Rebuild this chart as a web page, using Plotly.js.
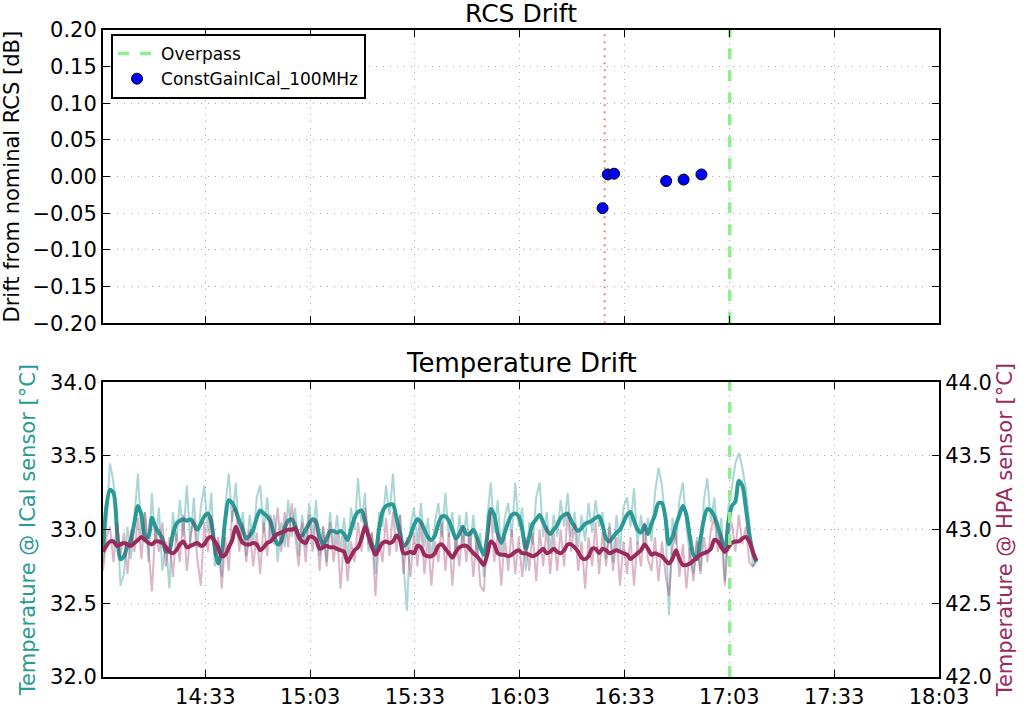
<!DOCTYPE html>
<html><head><meta charset="utf-8">
<script src="https://cdn.plot.ly/plotly-3.0.1.min.js"></script>
<style>html,body{margin:0;padding:0;background:#fff}#chart{width:1024px;height:708px}</style>
</head><body><div id="chart"></div>
<script>
// ---------- data ----------
const DAY = '2015-01-01';
const xStart = '14:03:42';
const xEnd = '18:03:00';
const sampleStartSec = 14 * 3600 + 3 * 60 + 42;
const sampleStepSec = 60;
const tickLabels = ['14:33', '15:03', '15:33', '16:03', '16:33', '17:03', '17:33', '18:03'];
const overpassTime = '17:03:06';
const calibTime = '16:27:18';
const rcsRange = [-0.2, 0.2];
const icalRange = [32, 34];
const hpaRange = [42, 44];

const rcsTimes = ['16:26:42', '16:28:12', '16:30:00', '16:44:54', '16:49:54', '16:55:00'];
const rcsDrift = [-0.043, 0.003, 0.004, -0.006, -0.004, 0.003];

const icalRaw = [
  32.78, 33.05, 33.45, 33.32, 33.10, 32.62, 32.70, 33.02, 32.80, 33.12,
  33.38, 32.95, 33.12, 32.78, 33.25, 32.90, 33.15, 32.72, 32.92, 32.60,
  33.12, 32.92, 33.20, 32.95, 33.30, 32.90, 33.22, 32.88, 33.15, 33.30,
  32.98, 33.25, 32.75, 32.92, 32.68, 33.15, 33.38, 33.05, 33.32, 32.95,
  33.12, 32.82, 33.10, 32.90, 33.22, 33.30, 32.98, 33.22, 32.92, 33.10,
  32.78, 33.05, 32.88, 33.20, 32.95, 33.15, 32.82, 33.10, 32.88, 33.18,
  32.95, 33.20, 32.82, 33.02, 32.78, 33.12, 32.88, 33.10, 32.85, 33.08,
  32.80, 33.15, 33.00, 33.35, 33.05, 33.25, 32.85, 32.98, 32.70, 33.12,
  33.02, 33.30, 33.10, 33.38, 33.00, 33.10, 32.75, 32.45, 33.02, 33.15,
  32.90, 33.18, 32.88, 33.08, 32.80, 33.05, 33.18, 32.95, 33.25, 32.95,
  33.12, 32.82, 33.10, 32.88, 33.12, 32.85, 33.10, 32.82, 32.98, 32.68,
  33.08, 33.32, 32.98, 33.20, 32.82, 33.08, 33.18, 32.95, 33.32, 33.02,
  33.15, 32.72, 33.05, 32.90, 33.22, 33.32, 32.95, 33.12, 32.85, 33.10,
  32.95, 33.20, 33.02, 33.25, 32.95, 33.12, 32.88, 33.10, 32.92, 33.18,
  32.98, 33.20, 33.02, 33.12, 32.80, 33.05, 32.78, 33.10, 32.85, 33.15,
  33.22, 33.02, 33.28, 32.90, 33.10, 32.88, 33.08, 32.92, 33.25, 33.42,
  33.30, 33.05, 32.42, 33.08, 32.90, 33.20, 33.32, 33.02, 32.82, 32.70,
  32.95, 32.72, 33.20, 33.35, 33.05, 33.22, 32.92, 33.08, 32.65, 33.15,
  33.28, 33.45, 33.52, 33.42, 33.28, 33.05, 32.75, 32.80
];
const icalSmooth = [
  32.88, 33.16, 33.27, 33.25, 33.00, 32.80, 32.82, 32.89, 32.93, 33.05,
  33.16, 33.10, 32.96, 32.95, 33.08, 33.02, 32.98, 32.94, 32.85, 32.86,
  32.97, 33.04, 33.06, 33.07, 33.06, 33.07, 33.04, 33.00, 33.04, 33.09,
  33.11, 33.05, 32.88, 32.77, 32.85, 33.07, 33.20, 33.18, 33.13, 33.06,
  33.00, 32.94, 32.96, 33.00, 33.08, 33.13, 33.11, 33.09, 33.05, 32.96,
  32.90, 32.92, 33.01, 33.06, 33.07, 33.03, 32.96, 32.96, 33.00, 33.04,
  33.07, 33.05, 32.95, 32.90, 32.94, 32.99, 32.99, 32.98, 32.99, 32.97,
  32.93, 33.00, 33.08, 33.12, 33.13, 33.06, 32.96, 32.90, 32.86, 33.00,
  33.12, 33.16, 33.17, 33.17, 33.08, 32.98, 32.89, 32.91, 32.96, 33.03,
  33.07, 33.05, 33.00, 32.95, 32.93, 32.96, 33.04, 33.09, 33.09, 33.06,
  33.00, 32.94, 32.97, 33.02, 32.97, 32.97, 33.00, 32.95, 32.88, 32.83,
  32.96, 33.14, 33.10, 32.97, 32.91, 32.98, 33.05, 33.10, 33.11, 33.09,
  33.00, 32.87, 32.95, 33.04, 33.07, 33.10, 33.05, 33.00, 32.97, 33.00,
  33.03, 33.08, 33.10, 33.11, 33.06, 33.02, 32.99, 33.01, 33.04, 33.05,
  33.06, 33.08, 33.09, 33.03, 32.94, 32.92, 32.95, 32.98, 33.00, 33.05,
  33.10, 33.12, 33.06, 33.00, 32.98, 33.03, 32.97, 33.04, 33.10, 33.18,
  33.18, 33.08, 32.90, 32.95, 33.03, 33.10, 33.16, 33.10, 32.95, 32.83,
  32.80, 32.93, 33.07, 33.14, 33.13, 33.09, 33.02, 32.94, 32.85, 33.05,
  33.16, 33.19, 33.33, 33.30, 33.15, 32.97, 32.85, 32.78
];
const hpaRaw = [
  42.72, 42.95, 43.02, 42.78, 43.05, 42.82, 42.98, 42.70, 43.00, 42.85,
  43.08, 42.80, 43.12, 42.88, 42.58, 43.02, 42.85, 43.05, 42.75, 42.95,
  42.68, 42.98, 42.78, 43.10, 42.72, 42.95, 43.08, 42.80, 42.62, 43.05,
  42.85, 43.10, 42.82, 42.95, 42.60, 42.95, 42.72, 43.12, 43.15, 42.85,
  43.05, 42.78, 43.00, 42.75, 42.98, 42.70, 43.05, 42.82, 43.10, 42.90,
  43.15, 42.85, 43.12, 42.88, 43.18, 42.95, 42.75, 43.05, 42.78, 43.10,
  42.85, 43.08, 42.72, 43.02, 42.75, 43.05, 42.78, 42.98, 42.60, 42.95,
  42.65, 42.92, 42.78, 43.05, 42.85, 43.15, 42.90, 42.98, 42.55, 42.95,
  42.78, 43.08, 42.82, 43.12, 42.85, 43.10, 42.70, 42.95, 42.68, 42.98,
  42.75, 43.05, 42.70, 42.95, 42.62, 42.92, 42.78, 43.05, 42.72, 42.98,
  42.62, 42.95, 42.75, 43.02, 42.78, 43.00, 42.68, 42.95, 42.62, 42.58,
  42.92, 43.12, 42.78, 42.98, 42.62, 42.95, 42.72, 43.00, 42.70, 42.95,
  42.68, 42.95, 42.72, 42.98, 42.65, 43.00, 42.75, 43.02, 42.70, 42.98,
  42.72, 43.00, 42.75, 43.12, 42.85, 43.05, 42.72, 42.92, 42.60, 42.95,
  42.75, 43.05, 42.70, 42.98, 42.75, 43.02, 42.72, 42.95, 42.62, 42.92,
  42.70, 42.95, 42.62, 42.92, 42.75, 43.05, 42.80, 42.72, 42.95, 42.65,
  42.92, 42.70, 42.55, 42.88, 42.98, 42.68, 42.90, 42.60, 42.88, 42.65,
  42.92, 42.70, 42.95, 42.78, 43.00, 43.08, 42.85, 42.98, 42.62, 42.95,
  43.05, 42.85, 43.10, 42.90, 43.02, 42.78, 42.75, 42.78
];
const hpaSmooth = [
  42.85, 42.89, 42.92, 42.92, 42.89, 42.90, 42.91, 42.90, 42.89, 42.91,
  42.93, 42.95, 42.93, 42.91, 42.90, 42.92, 42.92, 42.91, 42.88, 42.85,
  42.84, 42.86, 42.90, 42.92, 42.88, 42.89, 42.90, 42.91, 42.89, 42.90,
  42.94, 42.95, 42.92, 42.88, 42.82, 42.83, 42.88, 42.93, 43.02, 42.96,
  42.91, 42.90, 42.90, 42.91, 42.90, 42.86, 42.88, 42.91, 42.92, 42.95,
  42.97, 42.98, 42.99, 43.00, 43.00, 43.01, 42.95, 42.92, 42.91, 42.95,
  42.95, 42.93, 42.87, 42.88, 42.89, 42.88, 42.88, 42.87, 42.86, 42.85,
  42.78, 42.82, 42.86, 42.88, 42.94, 43.02, 42.96, 42.88, 42.83, 42.87,
  42.91, 42.92, 42.91, 42.92, 42.96, 42.93, 42.84, 42.84, 42.85, 42.84,
  42.89, 42.88, 42.83, 42.82, 42.82, 42.84, 42.89, 42.90, 42.87, 42.84,
  42.81, 42.85, 42.88, 42.89, 42.89, 42.87, 42.84, 42.82, 42.79, 42.76,
  42.83, 42.92, 42.90, 42.84, 42.83, 42.83, 42.82, 42.83, 42.85, 42.86,
  42.84, 42.84, 42.83, 42.82, 42.83, 42.85, 42.87, 42.84, 42.85, 42.87,
  42.85, 42.84, 42.86, 42.90, 42.90, 42.88, 42.85, 42.81, 42.80, 42.82,
  42.87, 42.87, 42.84, 42.87, 42.86, 42.84, 42.85, 42.86, 42.85, 42.84,
  42.83, 42.80, 42.82, 42.84, 42.86, 42.90, 42.87, 42.83, 42.84, 42.83,
  42.82, 42.79, 42.77, 42.80, 42.86, 42.80, 42.76, 42.76, 42.77, 42.79,
  42.81, 42.83, 42.84, 42.85, 42.87, 42.93, 42.92, 42.88, 42.85, 42.88,
  42.91, 42.92, 42.92, 42.94, 42.95, 42.92, 42.85, 42.79
];

// ---------- helpers ----------
function pad(n) { return String(n).padStart(2, '0'); }
function at(hms) { return DAY + ' ' + (hms.length === 5 ? hms + ':00' : hms); }
function sampleTimes(n) {
  const out = [];
  for (let i = 0; i < n; i++) {
    const s = sampleStartSec + i * sampleStepSec;
    out.push(DAY + ' ' + pad(Math.floor(s / 3600)) + ':' + pad(Math.floor(s / 60) % 60) + ':' + pad(s % 60));
  }
  return out;
}
const tSamples = sampleTimes(icalRaw.length);

const FONT = 'DejaVu Sans, Liberation Sans, sans-serif';
const TEAL = '#2a9a96';
const TEAL_LIGHT = 'rgba(42,154,150,0.40)';
const MAROON = '#9a2a5c';
const MAROON_LIGHT = 'rgba(154,42,92,0.35)';
const GREEN = '#90ee90';
const GRID = '#a8a8a8';
const GRID_DASH = '1px,6px';

const traces = [
  { x: [at(overpassTime), at(overpassTime)], y: rcsRange, mode: 'lines', name: 'Overpass',
    line: { color: GREEN, width: 3.5, dash: '11px,11px' }, xaxis: 'x', yaxis: 'y' },
  { x: rcsTimes.map(at), y: rcsDrift, mode: 'markers', name: 'ConstGainICal_100MHz',
    marker: { color: '#0000ff', size: 11, line: { color: '#000000', width: 1 } }, xaxis: 'x', yaxis: 'y' },
  { x: tSamples, y: icalRaw, mode: 'lines', line: { color: TEAL_LIGHT, width: 2 }, showlegend: false, xaxis: 'x2', yaxis: 'y2' },
  { x: tSamples, y: icalSmooth, mode: 'lines', line: { color: TEAL, width: 4, shape: 'spline', smoothing: 0.8 }, showlegend: false, xaxis: 'x2', yaxis: 'y2' },
  { x: tSamples, y: hpaRaw, mode: 'lines', line: { color: MAROON_LIGHT, width: 2 }, showlegend: false, xaxis: 'x2', yaxis: 'y3' },
  { x: tSamples, y: hpaSmooth, mode: 'lines', line: { color: MAROON, width: 4, shape: 'spline', smoothing: 0.8 }, showlegend: false, xaxis: 'x2', yaxis: 'y3' }
];

const tickFont = { family: FONT, size: 21, color: '#000' };
const commonX = {
  type: 'date', range: [at(xStart), at(xEnd)],
  tickvals: tickLabels.map(at), ticktext: tickLabels,
  ticks: 'inside', ticklen: 7, tickwidth: 1, tickcolor: '#000',
  showline: true, linewidth: 2, linecolor: '#000', mirror: 'ticks',
  showgrid: true, gridcolor: GRID, griddash: GRID_DASH, gridwidth: 1,
  zeroline: false, tickfont: tickFont
};

const layout = {
  width: 1024, height: 708,
  margin: { l: 103, r: 85, t: 30, b: 31 },
  paper_bgcolor: '#fff', plot_bgcolor: '#fff',
  font: { family: FONT, color: '#000' },
  showlegend: true,
  legend: { x: 0.0096, y: 0.9938, xanchor: 'left', yanchor: 'top', bgcolor: '#fff', itemwidth: 38,
    bordercolor: '#000', borderwidth: 2, font: { family: FONT, size: 17, color: '#000' }, tracegroupgap: 0 },
  xaxis: Object.assign({}, commonX, { domain: [0, 1], anchor: 'y', showticklabels: false }),
  yaxis: { domain: [0.5467, 1], anchor: 'x', range: rcsRange, tick0: 0, dtick: 0.05, tickformat: '.2f',
    ticks: 'inside', ticklen: 7, tickwidth: 1, tickcolor: '#000',
    showline: true, linewidth: 2, linecolor: '#000', mirror: 'ticks',
    showgrid: true, gridcolor: GRID, griddash: GRID_DASH, gridwidth: 1, zeroline: false, tickfont: tickFont,
    title: { text: 'Drift from nominal RCS [dB]', font: { family: FONT, size: 21, color: '#000' }, standoff: 9 } },
  xaxis2: Object.assign({}, commonX, { domain: [0, 1], anchor: 'y2', showticklabels: true }),
  yaxis2: { domain: [0, 0.4555], anchor: 'x2', range: icalRange, tick0: 32, dtick: 0.5, tickformat: '.1f', side: 'left',
    ticks: 'inside', ticklen: 7, tickwidth: 1, tickcolor: '#000',
    showline: true, linewidth: 2, linecolor: '#000',
    showgrid: true, gridcolor: GRID, griddash: GRID_DASH, gridwidth: 1, zeroline: false, tickfont: tickFont,
    title: { text: 'Temperature @ ICal sensor [°C]', font: { family: FONT, size: 21, color: TEAL }, standoff: 9 } },
  yaxis3: { overlaying: 'y2', anchor: 'x2', side: 'right', range: hpaRange, tick0: 42, dtick: 0.5, tickformat: '.1f',
    ticks: 'inside', ticklen: 7, tickwidth: 1, tickcolor: '#000',
    showline: true, linewidth: 2, linecolor: '#000',
    showgrid: false, zeroline: false, tickfont: tickFont,
    title: { text: 'Temperature @ HPA sensor [°C]', font: { family: FONT, size: 21, color: MAROON }, standoff: 6 } },
  shapes: [
    { type: 'line', xref: 'x', yref: 'y domain', x0: at(calibTime), x1: at(calibTime), y0: 0, y1: 1,
      line: { color: '#f08080', width: 2, dash: '2px,5px' }, layer: 'below' },
    { type: 'line', xref: 'x2', yref: 'y2 domain', x0: at(overpassTime), x1: at(overpassTime), y0: 0, y1: 1,
      line: { color: GREEN, width: 3.5, dash: '11px,11px' }, layer: 'above' }
  ],
  annotations: [
    { text: 'RCS Drift', xref: 'paper', yref: 'paper', x: 0.5, y: 1, xanchor: 'center', yanchor: 'bottom',
      yshift: 0, showarrow: false, font: { family: FONT, size: 25, color: '#000' } },
    { text: 'Temperature Drift', xref: 'paper', yref: 'paper', x: 0.5, y: 0.4555, xanchor: 'center', yanchor: 'bottom',
      yshift: 2, showarrow: false, font: { family: FONT, size: 26, color: '#000' } }
  ]
};

Plotly.newPlot('chart', traces, layout, { staticPlot: true, displayModeBar: false });
</script>
</body></html>
